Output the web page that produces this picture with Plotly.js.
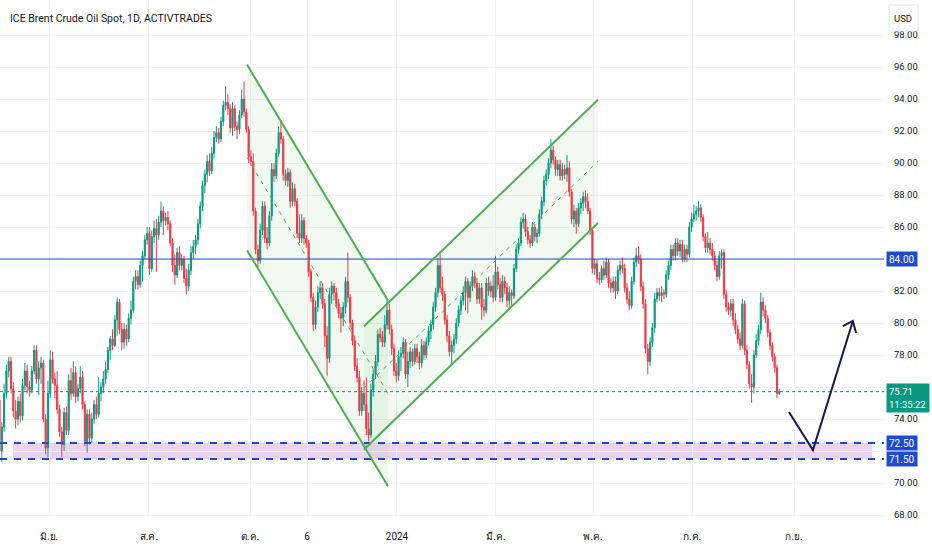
<!DOCTYPE html>
<html>
<head>
<meta charset="utf-8">
<script src="https://cdn.plot.ly/plotly-3.0.1.min.js"></script>
<style>html,body{margin:0;padding:0;background:#fff;}#chart{width:932px;height:550px;}</style>
</head>
<body>
<div id="chart"></div>
<script>
// Daily OHLC values, one entry per trading day
const openP = [
75.2,72.0,73.5,75.6,77.0,77.6,75.9,74.5,74.0,75.1,
74.2,76.1,77.0,76.0,75.8,77.0,78.3,76.5,77.2,77.5,
74.0,72.2,75.6,77.7,76.5,76.1,74.6,73.2,72.4,74.4,
73.3,76.4,75.6,76.9,75.4,75.9,76.6,74.9,72.6,74.3,
72.8,74.0,74.9,74.3,75.6,76.0,76.5,77.1,78.3,79.0,
78.6,80.2,81.3,79.6,78.8,79.6,79.0,80.3,80.8,82.6,
82.9,82.4,83.6,84.2,85.2,85.6,83.4,85.4,85.9,85.5,
86.3,87.0,86.4,86.6,86.2,85.0,83.6,83.0,84.4,83.6,
84.0,82.8,82.3,83.3,84.4,84.8,85.2,86.2,87.3,88.6,
89.3,90.1,89.5,90.6,91.6,91.9,91.5,92.6,93.6,93.8,
93.4,92.2,93.4,92.3,92.1,93.0,94.0,93.2,92.1,90.4,
90.1,87.0,84.6,83.9,85.8,87.3,85.3,85.0,86.7,89.6,
89.2,90.6,91.9,91.5,89.3,88.9,89.4,87.6,88.4,87.6,
85.6,85.3,86.4,85.3,85.0,83.2,81.6,79.9,81.0,81.9,
82.2,81.2,79.2,77.8,81.8,82.3,81.9,81.2,80.6,80.3,
81.0,82.6,81.6,80.0,78.9,77.3,76.6,74.5,75.6,74.9,
73.4,73.0,75.8,76.8,77.6,79.3,79.1,78.8,79.9,80.8,
79.6,78.4,77.0,76.7,77.9,78.1,78.8,76.8,77.6,78.2,
77.6,78.4,77.9,77.5,78.6,78.0,78.8,79.5,79.9,81.0,
81.9,83.6,82.2,81.8,80.2,79.2,78.2,78.6,79.0,80.0,
80.8,81.4,81.9,82.6,81.6,82.3,82.9,82.5,81.5,82.2,
81.0,80.8,82.5,82.0,82.3,81.6,83.2,82.4,81.6,82.6,
82.2,81.4,81.9,81.7,83.4,84.6,85.0,86.3,86.5,85.7,
85.2,85.0,86.0,85.4,85.6,86.8,87.6,88.9,89.3,90.0,
90.8,90.2,89.6,89.9,89.2,89.6,89.3,89.7,88.2,86.5,
87.0,86.2,87.2,87.5,87.9,87.6,87.0,85.8,83.4,83.7,
82.8,82.7,83.4,83.0,83.8,82.5,82.2,82.6,82.0,83.3,
83.6,83.4,82.2,81.5,81.1,82.6,83.8,84.2,84.0,82.3,
81.2,78.4,77.6,78.8,79.7,81.5,81.9,81.7,81.9,81.8,
83.0,83.6,84.6,84.2,85.0,84.5,84.9,84.0,84.6,84.3,
86.0,86.5,86.8,87.0,87.2,86.6,85.4,84.7,85.0,84.6,
84.2,83.6,82.9,84.2,84.4,81.8,81.0,80.8,81.2,80.2,
79.6,79.0,78.6,81.2,78.3,77.4,76.2,76.0,78.0,78.9,
79.6,81.3,80.8,80.3,79.4,78.6,77.9,77.2,75.6
];
const highP = [
75.4,73.8,76.2,77.4,77.9,77.9,76.3,75.2,75.4,75.6,
76.5,77.5,77.4,76.4,77.3,78.6,78.6,77.6,77.9,77.7,
74.3,76.4,78.3,78.2,76.9,77.0,74.9,73.5,74.7,74.8,
76.8,77.2,77.6,77.3,76.2,77.3,77.0,75.1,74.6,74.6,
74.4,75.2,75.4,76.6,76.3,77.0,77.6,78.5,79.2,79.6,
80.5,81.6,81.5,80.0,80.0,79.9,80.6,81.4,82.9,83.3,
83.3,83.9,84.5,85.5,86.0,86.0,85.8,86.4,86.5,86.7,
87.6,87.3,86.9,87.0,86.4,85.3,84.3,84.7,84.8,84.3,
84.2,83.4,83.7,84.8,85.2,85.5,86.5,87.6,88.9,89.6,
90.5,90.6,91.0,92.0,92.3,92.2,92.9,93.9,94.8,94.3,
93.7,93.8,93.6,92.6,93.3,94.6,95.1,93.4,92.3,90.8,
90.6,87.2,84.9,86.2,87.6,87.6,86.0,87.0,90.0,90.0,
90.9,92.3,92.6,91.7,89.6,89.7,89.6,88.8,88.7,87.8,
86.8,86.8,86.6,85.5,85.2,83.4,81.9,81.4,82.3,82.6,
82.5,81.5,79.8,82.2,82.6,82.5,82.2,81.5,81.0,81.3,
82.9,84.4,81.8,80.2,79.2,77.8,77.0,76.0,76.4,76.6,
74.4,76.2,77.1,78.0,79.6,79.7,79.5,80.5,81.4,81.2,
79.9,78.7,77.5,78.3,78.5,79.1,79.0,78.2,78.5,78.4,
78.7,78.7,78.2,79.0,78.9,79.1,79.8,80.2,81.3,82.2,
84.0,84.3,82.9,82.0,80.5,79.5,78.9,79.3,80.3,81.1,
81.7,82.3,82.9,82.8,82.6,83.3,83.2,82.8,82.5,82.5,
81.5,82.8,82.9,82.6,83.0,84.2,83.5,82.8,83.0,82.9,
82.5,82.3,82.1,83.7,84.9,85.3,86.6,86.9,86.8,86.0,
85.5,86.3,86.2,85.9,87.1,87.9,89.2,89.6,90.3,91.5,
91.1,90.4,90.2,90.2,90.0,89.9,90.5,90.1,88.4,87.4,
87.2,87.5,87.8,88.2,88.3,88.1,87.2,86.0,84.0,84.0,
83.2,83.6,83.9,84.1,84.0,82.8,82.9,82.9,83.6,83.9,
84.1,83.7,82.5,82.0,82.9,84.1,84.7,84.8,84.3,82.6,
81.5,78.7,79.1,80.0,81.9,82.2,82.2,82.3,82.1,83.3,
83.9,84.9,84.9,85.3,85.3,85.2,85.2,84.9,84.9,86.3,
86.9,87.4,87.3,87.6,87.4,86.8,85.6,85.7,85.3,85.0,
84.5,83.9,84.5,84.6,84.6,82.1,81.3,81.5,81.5,80.6,
79.9,79.4,81.5,81.4,78.6,77.6,76.8,78.3,79.3,79.9,
81.9,81.6,81.1,80.5,79.6,78.8,78.1,77.4,75.9
];
const lowP = [
71.6,71.3,73.2,75.3,76.6,75.6,74.1,73.4,73.6,73.8,
73.9,75.8,75.6,75.4,75.6,76.8,76.2,75.5,76.2,73.8,
71.8,71.6,75.3,76.2,75.3,74.3,72.9,71.6,72.0,73.0,
73.0,75.2,75.4,75.0,75.1,75.6,74.6,72.3,71.9,72.4,
72.5,73.7,74.0,74.1,75.1,75.6,76.2,76.9,77.7,78.3,
78.5,79.2,79.3,78.3,78.4,78.6,78.8,79.9,80.6,82.1,
82.1,82.2,82.6,84.0,84.9,83.0,83.2,85.0,83.2,85.2,
86.0,85.5,86.1,85.8,84.8,83.2,82.4,82.8,83.3,83.3,
82.5,81.8,82.0,83.0,84.0,84.3,84.9,85.9,87.0,88.1,
88.8,89.2,89.3,90.3,91.3,91.2,91.3,92.3,93.3,93.0,
91.9,91.7,92.0,91.5,91.8,92.8,92.9,91.9,90.0,89.8,
86.7,84.3,83.4,83.7,85.5,85.0,84.6,84.8,86.4,88.8,
89.0,90.4,91.2,88.9,88.6,88.5,87.2,87.3,87.3,85.3,
85.0,85.0,84.9,84.7,82.9,81.3,79.5,79.6,80.7,81.5,
80.9,78.5,76.7,77.5,81.2,81.4,80.9,80.3,79.4,79.8,
80.6,81.3,79.7,78.6,77.0,76.3,74.2,74.2,74.5,73.0,
72.6,72.8,75.4,76.5,77.3,78.8,78.5,78.5,79.6,79.3,
78.0,76.7,76.3,76.4,77.0,77.8,76.5,76.0,77.2,77.3,
77.4,77.5,77.1,77.2,77.7,77.8,78.6,79.0,79.6,80.7,
81.6,81.9,81.4,79.9,78.8,77.9,77.3,78.1,78.7,79.8,
80.5,81.1,80.8,80.6,81.3,82.0,82.2,81.2,81.2,80.2,
80.4,80.6,81.7,81.6,81.3,81.4,82.1,81.3,81.3,81.8,
81.0,80.9,81.0,81.5,83.2,84.3,84.8,85.9,85.4,84.9,
84.7,84.8,85.1,85.0,85.4,86.5,87.3,88.6,89.0,89.7,
89.9,89.2,89.2,88.9,88.9,89.0,88.8,87.9,86.2,86.0,
85.6,86.0,86.8,87.0,87.2,86.8,85.5,83.1,83.0,82.5,
82.4,82.5,82.7,82.8,82.2,81.9,81.9,81.5,81.8,83.0,
83.1,81.9,81.2,80.8,80.9,82.4,83.5,83.7,82.0,80.9,
78.1,76.8,77.3,78.5,79.4,81.3,81.4,81.3,81.5,81.6,
82.7,83.3,83.9,83.9,84.2,84.1,83.8,83.8,83.8,84.1,
85.7,86.3,86.4,86.6,86.3,85.1,84.4,84.4,84.3,83.9,
83.3,82.6,82.7,83.4,81.5,80.7,80.5,80.4,79.8,79.3,
78.7,78.3,78.4,78.0,77.1,75.9,75.0,75.6,77.8,78.6,
79.3,80.4,80.0,79.1,78.3,77.6,76.9,75.3,75.5
];
const closeP = [
72.0,73.5,75.6,77.0,77.6,75.9,74.5,74.0,75.1,74.2,
76.1,77.0,76.0,75.8,77.0,78.3,76.5,77.2,77.5,74.0,
72.2,75.6,77.7,76.5,76.1,74.6,73.2,72.4,74.4,73.3,
76.4,75.6,76.9,75.4,75.9,76.6,74.9,72.6,74.3,72.8,
74.0,74.9,74.3,75.6,76.0,76.5,77.1,78.3,79.0,78.6,
80.2,81.3,79.6,78.8,79.6,79.0,80.3,80.8,82.6,82.9,
82.4,83.6,84.2,85.2,85.6,83.4,85.4,85.9,85.5,86.3,
87.0,86.4,86.6,86.2,85.0,83.6,83.0,84.4,83.6,84.0,
82.8,82.3,83.3,84.4,84.8,85.2,86.2,87.3,88.6,89.3,
90.1,89.5,90.6,91.6,91.9,91.5,92.6,93.6,93.8,93.4,
92.2,93.4,92.3,92.1,93.0,94.0,93.2,92.1,90.4,90.1,
87.0,84.6,83.9,85.8,87.3,85.3,85.0,86.7,89.6,89.2,
90.6,91.9,91.5,89.3,88.9,89.4,87.6,88.4,87.6,85.6,
85.3,86.4,85.3,85.0,83.2,81.6,79.9,81.0,81.9,82.2,
81.2,79.2,77.8,81.8,82.3,81.9,81.2,80.6,80.3,81.0,
82.6,81.6,80.0,78.9,77.3,76.6,74.5,75.6,74.9,73.4,
73.0,75.8,76.8,77.6,79.3,79.1,78.8,79.9,80.8,79.6,
78.4,77.0,76.7,77.9,78.1,78.8,76.8,77.6,78.2,77.6,
78.4,77.9,77.5,78.6,78.0,78.8,79.5,79.9,81.0,81.9,
83.6,82.2,81.8,80.2,79.2,78.2,78.6,79.0,80.0,80.8,
81.4,81.9,82.6,81.6,82.3,82.9,82.5,81.5,82.2,81.0,
80.8,82.5,82.0,82.3,81.6,83.2,82.4,81.6,82.6,82.2,
81.4,81.9,81.7,83.4,84.6,85.0,86.3,86.5,85.7,85.2,
85.0,86.0,85.4,85.6,86.8,87.6,88.9,89.3,90.0,90.8,
90.2,89.6,89.9,89.2,89.6,89.3,89.7,88.2,86.5,87.0,
86.2,87.2,87.5,87.9,87.6,87.0,85.8,83.4,83.7,82.8,
82.7,83.4,83.0,83.8,82.5,82.2,82.6,82.0,83.3,83.6,
83.4,82.2,81.5,81.1,82.6,83.8,84.2,84.0,82.3,81.2,
78.4,77.6,78.8,79.7,81.5,81.9,81.7,81.9,81.8,83.0,
83.6,84.6,84.2,85.0,84.5,84.9,84.0,84.6,84.3,86.0,
86.5,86.8,87.0,87.2,86.6,85.4,84.7,85.0,84.6,84.2,
83.6,82.9,84.2,84.4,81.8,81.0,80.8,81.2,80.2,79.6,
79.0,78.6,81.2,78.3,77.4,76.2,76.0,78.0,78.9,79.6,
81.3,80.8,80.3,79.4,78.6,77.9,77.2,75.6,75.71
];

// Axis ticks
const monthTicks = [21.5, 64.8, 108.6, 133.3, 172.3, 215.2, 257.3, 300.2, 344.4];
const monthLabels = ["มิ.ย.", "ส.ค.", "ต.ค.", "6", "2024", "มี.ค.", "พ.ค.", "ก.ค.", "ก.ย."];
const priceTicks = [68, 70, 72, 74, 76, 78, 80, 82, 84, 86, 88, 90, 92, 94, 96, 98];
// price-scale labels hidden behind the highlighted tags in the reference
const coveredTicks = [72, 76, 84];

// Levels
const resistanceLevel = 84.00;
const zoneTop = 72.50;
const zoneBottom = 71.50;
const lastPrice = 75.71;
const countdown = "11:35:22";

// Drawings (bar index, price)
const descStart = 107.3, descEnd = 168.4;
const descUpper = [96.15, 81.40], descMid = [90.35, 75.60], descLower = [84.55, 69.80];
const ascStart = 158.0, ascEnd = 259.4;
const ascUpper = [79.80, 93.95], ascMid = [75.95, 90.10], ascLower = [72.10, 86.25];
const arrowPts = [[342.2, 74.44], [352.6, 72.06], [369.9, 80.13]];
const arrowHead = [[365.6, 79.81], [369.9, 80.13], [371.3, 79.38]];

const idx = closeP.map((_, i) => i);
const GREEN = '#089981', RED = '#f23645', BLUE = '#1e49d1', CH = '#4caf50';
const FONT = 'Roboto, "Noto Sans", "DejaVu Sans", sans-serif';

const trace = {
  type: 'candlestick', x: idx, open: openP, high: highP, low: lowP, close: closeP,
  increasing: {line: {color: GREEN, width: 1}, fillcolor: GREEN},
  decreasing: {line: {color: RED, width: 1}, fillcolor: RED},
  whiskerwidth: 0, hoverinfo: 'skip', showlegend: false
};

function p(pts){ return 'M' + pts.map(q => q[0] + ',' + q[1]).join(' L'); }

const shapes = [
  {type:'path', xref:'x', yref:'y', layer:'between', line:{width:0}, fillcolor:'rgba(76,175,80,0.08)',
   path: p([[descStart, descUpper[0]], [descEnd, descUpper[1]], [descEnd, descLower[1]], [descStart, descLower[0]]]) + ' Z'},
  {type:'path', xref:'x', yref:'y', layer:'between', line:{width:0}, fillcolor:'rgba(76,175,80,0.08)',
   path: p([[ascStart, ascUpper[0]], [ascEnd, ascUpper[1]], [ascEnd, ascLower[1]], [ascStart, ascLower[0]]]) + ' Z'},
  {type:'rect', xref:'paper', yref:'y', x0:0.0147, x1:0.9864, y0:zoneBottom, y1:zoneTop, layer:'between',
   line:{width:0}, fillcolor:'rgba(156,39,176,0.2)'},
  {type:'line', xref:'paper', yref:'y', x0:0, x1:1, y0:lastPrice, y1:lastPrice, layer:'above',
   line:{color:GREEN, width:1, dash:'dot'}},
  {type:'line', xref:'paper', yref:'y', x0:0, x1:1, y0:resistanceLevel, y1:resistanceLevel, layer:'above',
   line:{color:BLUE, width:1}},
  {type:'line', xref:'paper', yref:'y', x0:0, x1:1, y0:zoneTop, y1:zoneTop, layer:'above',
   line:{color:BLUE, width:2, dash:'7px,7px'}},
  {type:'line', xref:'paper', yref:'y', x0:0, x1:1, y0:zoneBottom, y1:zoneBottom, layer:'above',
   line:{color:BLUE, width:2, dash:'7px,7px'}},
  {type:'line', xref:'x', yref:'y', x0:descStart, x1:descEnd, y0:descUpper[0], y1:descUpper[1], layer:'above', line:{color:CH, width:2}},
  {type:'line', xref:'x', yref:'y', x0:descStart, x1:descEnd, y0:descLower[0], y1:descLower[1], layer:'above', line:{color:CH, width:2}},
  {type:'line', xref:'x', yref:'y', x0:descStart, x1:descEnd, y0:descMid[0], y1:descMid[1], layer:'above', line:{color:CH, width:1, dash:'4px,5px'}},
  {type:'line', xref:'x', yref:'y', x0:ascStart, x1:ascEnd, y0:ascUpper[0], y1:ascUpper[1], layer:'above', line:{color:CH, width:2}},
  {type:'line', xref:'x', yref:'y', x0:ascStart, x1:ascEnd, y0:ascLower[0], y1:ascLower[1], layer:'above', line:{color:CH, width:2}},
  {type:'line', xref:'x', yref:'y', x0:ascStart, x1:ascEnd, y0:ascMid[0], y1:ascMid[1], layer:'above', line:{color:CH, width:1, dash:'4px,5px'}},
  {type:'path', xref:'x', yref:'y', layer:'above', line:{color:'#141a4d', width:2}, path: p(arrowPts)},
  {type:'path', xref:'x', yref:'y', layer:'above', line:{color:'#141a4d', width:2}, path: p(arrowHead)},
  {type:'rect', xref:'paper', yref:'paper', x0:1.0057, x1:1.0385, y0:1 - 31/517, y1:1 - 5/517, layer:'above',
   line:{color:'#e0e3eb', width:1}, fillcolor:'#ffffff'}
];

function tag(y, text, bg, w, h, yshift, size){
  return {xref:'paper', yref:'y', x:1, y:y, xanchor:'left', yanchor:'middle', xshift:2, yshift:yshift || 0,
    showarrow:false, text:text, bgcolor:bg, borderpad:2, width:w, height:h, align:'left', valign:'middle',
    font:{family:FONT, size:size || 10, color:'#ffffff'}};
}

const annotations = [
  {xref:'paper', yref:'paper', x:0, y:1, xanchor:'left', yanchor:'middle', xshift:8, yshift:-18, showarrow:false,
   text:'ICE Brent Crude Oil Spot, 1D, ACTIVTRADES', font:{family:'Roboto, sans-serif', size:10.5, color:'#131722'}},
  {xref:'paper', yref:'paper', x:1.0057, y:1 - 18/517, xanchor:'left', yanchor:'middle', xshift:3, showarrow:false,
   text:'USD', font:{family:FONT, size:9.5, color:'#131722'}},
  tag(resistanceLevel, resistanceLevel.toFixed(2), BLUE, 26, 10),
  tag(zoneTop, zoneTop.toFixed(2), BLUE, 26, 10),
  tag(zoneBottom, zoneBottom.toFixed(2), BLUE, 26, 10),
  tag(lastPrice, lastPrice.toFixed(2) + '<br>' + countdown, GREEN, 38, 24, -6, 9.5)
];

const layout = {
  width: 932, height: 550,
  margin: {l: 0, r: 48, t: 0, b: 33},
  paper_bgcolor: '#ffffff', plot_bgcolor: '#ffffff',
  showlegend: false, hovermode: false,
  font: {family: FONT, color: '#131722'},
  xaxis: {range: [0.217, 383.4], tickvals: monthTicks, ticktext: monthLabels,
    showgrid: true, gridcolor: '#f0f3fa', gridwidth: 1, zeroline: false, showline: false,
    ticks: 'outside', ticklen: 10, tickcolor: 'rgba(0,0,0,0)',
    tickfont: {family: FONT, size: 10, color: '#131722'}, rangeslider: {visible: false}, fixedrange: true},
  yaxis: {side: 'right', range: [67.875, 100.19], tickvals: priceTicks,
    ticktext: priceTicks.map(v => coveredTicks.includes(v) ? '' : v.toFixed(2)),
    showgrid: true, gridcolor: '#f0f3fa', gridwidth: 1, zeroline: false, showline: false,
    ticks: 'outside', ticklen: 7, tickcolor: 'rgba(0,0,0,0)',
    tickfont: {family: FONT, size: 9.5, color: '#131722'}, fixedrange: true},
  shapes: shapes,
  annotations: annotations
};

Plotly.newPlot('chart', [trace], layout, {staticPlot: true, displayModeBar: false});
</script>
</body>
</html>
